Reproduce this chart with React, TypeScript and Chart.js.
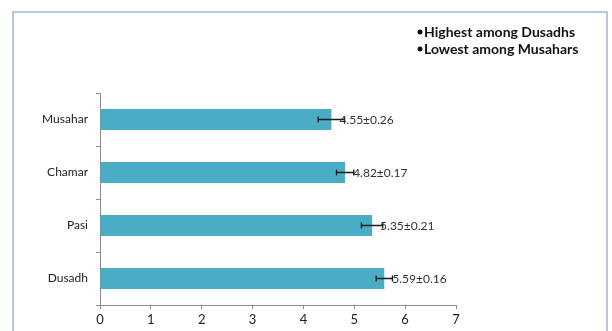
import React, { useEffect, useRef } from "react";
import { Chart, registerables } from "chart.js";

Chart.register(...registerables);

const categories = ["Musahar", "Chamar", "Pasi", "Dusadh"];
const means = [4.55, 4.82, 5.35, 5.59];
const errors = [0.26, 0.17, 0.21, 0.16];
const xTicks = [0, 1, 2, 3, 4, 5, 6, 7];
const notes = ["Highest among Dusadhs", "Lowest among Musahars"];

const FONT = "Lato, 'Open Sans', 'Liberation Sans', sans-serif";

const decorPlugin = {
  id: "decor",
  beforeDraw(chart: any) {
    const ctx = chart.ctx;
    ctx.save();
    ctx.fillStyle = "#ffffff";
    ctx.fillRect(0, 0, chart.width, chart.height);
    ctx.strokeStyle = "#b9c8de";
    ctx.lineWidth = 2;
    ctx.strokeRect(13, 12, 594, 340);
    ctx.restore();
  },
  afterDatasetsDraw(chart: any) {
    const ctx = chart.ctx;
    const xs = chart.scales.x;
    const ys = chart.scales.y;
    ctx.save();
    means.forEach((m, i) => {
      const y = ys.getPixelForValue(i);
      const x0 = xs.getPixelForValue(m - errors[i]);
      const x1 = xs.getPixelForValue(m + errors[i]);
      ctx.strokeStyle = "#1a1a1a";
      ctx.lineWidth = 1.3;
      ctx.beginPath();
      ctx.moveTo(x0, y);
      ctx.lineTo(x1, y);
      ctx.moveTo(x0, y - 3);
      ctx.lineTo(x0, y + 3);
      ctx.moveTo(x1, y - 3);
      ctx.lineTo(x1, y + 3);
      ctx.stroke();
      ctx.fillStyle = "#333333";
      ctx.font = `12px ${FONT}`;
      ctx.textAlign = "left";
      ctx.textBaseline = "middle";
      ctx.fillText(`${m.toFixed(2)}±${errors[i].toFixed(2)}`, xs.getPixelForValue(m) + 8, y + 1);
    });
    ctx.font = `bold 14px ${FONT}`;
    ctx.fillStyle = "#111111";
    ctx.textBaseline = "middle";
    notes.forEach((t, i) => {
      const y = 32 + i * 17;
      ctx.beginPath();
      ctx.arc(420, y, 2.5, 0, Math.PI * 2);
      ctx.fill();
      ctx.fillText(t, 424, y);
    });
    ctx.restore();
  },
};

export default function App() {
  const ref = useRef<HTMLCanvasElement | null>(null);
  useEffect(() => {
    if (!ref.current) return;
    const chart = new Chart(ref.current, {
      type: "bar",
      data: {
        labels: categories,
        datasets: [
          {
            data: means,
            backgroundColor: "#4bacc6",
            borderWidth: 0,
            categoryPercentage: 1,
            barPercentage: 0.4,
          },
        ],
      },
      options: {
        indexAxis: "y",
        animation: false,
        responsive: false,
        maintainAspectRatio: false,
        layout: { padding: { top: 93, right: 156, left: 0, bottom: 0 } },
        plugins: { legend: { display: false }, tooltip: { enabled: false } },
        scales: {
          x: {
            min: 0,
            max: 7,
            afterBuildTicks: (s: any) => {
              s.ticks = xTicks.map((v) => ({ value: v }));
            },
            afterFit: (s: any) => {
              s.height = 26;
            },
            grid: { display: true, drawOnChartArea: false, drawTicks: true, tickLength: 4, color: "#8c8c8c" },
            border: { display: true, color: "#8c8c8c", width: 1 },
            ticks: { color: "#222", font: { family: FONT, size: 13 }, padding: 3 },
          },
          y: {
            offset: true,
            afterFit: (s: any) => {
              s.width = 100;
            },
            grid: { display: true, offset: true, drawOnChartArea: false, drawTicks: true, tickLength: 4, color: "#8c8c8c" },
            border: { display: true, color: "#8c8c8c", width: 1 },
            ticks: { color: "#222", font: { family: FONT, size: 12 }, padding: 8 },
          },
        },
      },
      plugins: [decorPlugin],
    });
    return () => chart.destroy();
  }, []);
  return (
    <div style={{ position: "fixed", left: 0, top: 0, width: 612, height: 331, background: "#fff" }}>
      <canvas ref={ref} width={612} height={331} style={{ width: 612, height: 331, display: "block" }} />
    </div>
  );
}
